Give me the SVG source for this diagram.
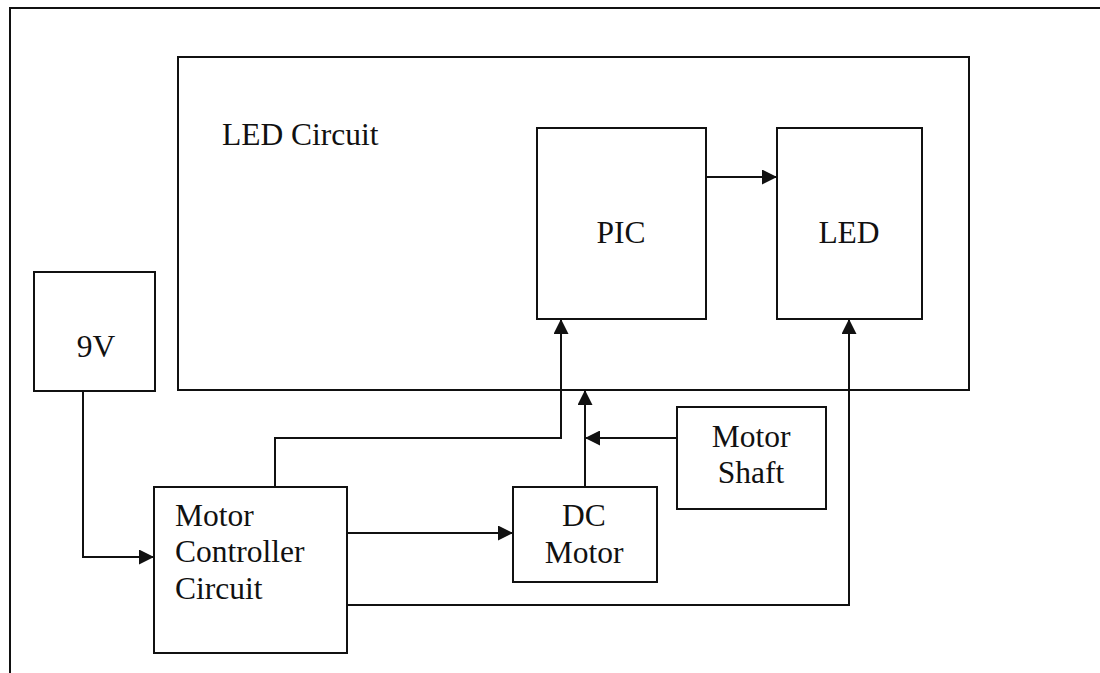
<svg xmlns="http://www.w3.org/2000/svg" width="1100" height="673" viewBox="0 0 1100 673">
<style>
.box{fill:none;stroke:#111;stroke-width:2}
.ln{fill:none;stroke:#111;stroke-width:2}
.t{font-family:"Liberation Serif","Times New Roman",serif;font-size:31.5px;fill:#111}
.c{text-anchor:middle}
</style>
<defs>
<marker id="ah" markerUnits="userSpaceOnUse" markerWidth="15" markerHeight="15" refX="15" refY="7.5" orient="auto">
<path d="M0,0 L15,7.5 L0,15 z" fill="#111"/>
</marker>
</defs>
<rect width="1100" height="673" fill="#fff"/>
<g id="frame">
<path class="ln" d="M10,673 L10,8 L1100,8"/>
</g>
<g id="led-circuit">
<rect class="box" x="178" y="57" width="791" height="333"/>
<text class="t" x="222" y="145">LED Circuit</text>
</g>
<g id="pic">
<rect class="box" x="537" y="128" width="169" height="191"/>
<text class="t c" x="621" y="243">PIC</text>
</g>
<g id="led">
<rect class="box" x="777" y="128" width="145" height="191"/>
<text class="t c" x="849" y="243">LED</text>
</g>
<g id="v9">
<rect class="box" x="34" y="272" width="121" height="119"/>
<text class="t c" x="96" y="357">9V</text>
</g>
<g id="motor-controller">
<rect class="box" x="154" y="487" width="193" height="166"/>
<text class="t" x="175" y="526">Motor</text>
<text class="t" x="175" y="562">Controller</text>
<text class="t" x="175" y="599">Circuit</text>
</g>
<g id="dc-motor">
<rect class="box" x="513" y="487" width="144" height="95"/>
<text class="t c" x="584" y="526">DC</text>
<text class="t c" x="584" y="563">Motor</text>
</g>
<g id="motor-shaft">
<rect class="box" x="677" y="407" width="149" height="102"/>
<text class="t c" x="751" y="447">Motor</text>
<text class="t c" x="751" y="483">Shaft</text>
</g>
<g id="connectors">
<path class="ln" d="M83,391 L83,557 L154,557" marker-end="url(#ah)"/>
<path class="ln" d="M275,487 L275,438 L561,438 L561,319" marker-end="url(#ah)"/>
<path class="ln" d="M347,533 L513,533" marker-end="url(#ah)"/>
<path class="ln" d="M347,605 L849,605 L849,319" marker-end="url(#ah)"/>
<path class="ln" d="M585,487 L585,390" marker-end="url(#ah)"/>
<path class="ln" d="M677,438 L585,438" marker-end="url(#ah)"/>
<path class="ln" d="M706,177 L777,177" marker-end="url(#ah)"/>
</g>
</svg>
